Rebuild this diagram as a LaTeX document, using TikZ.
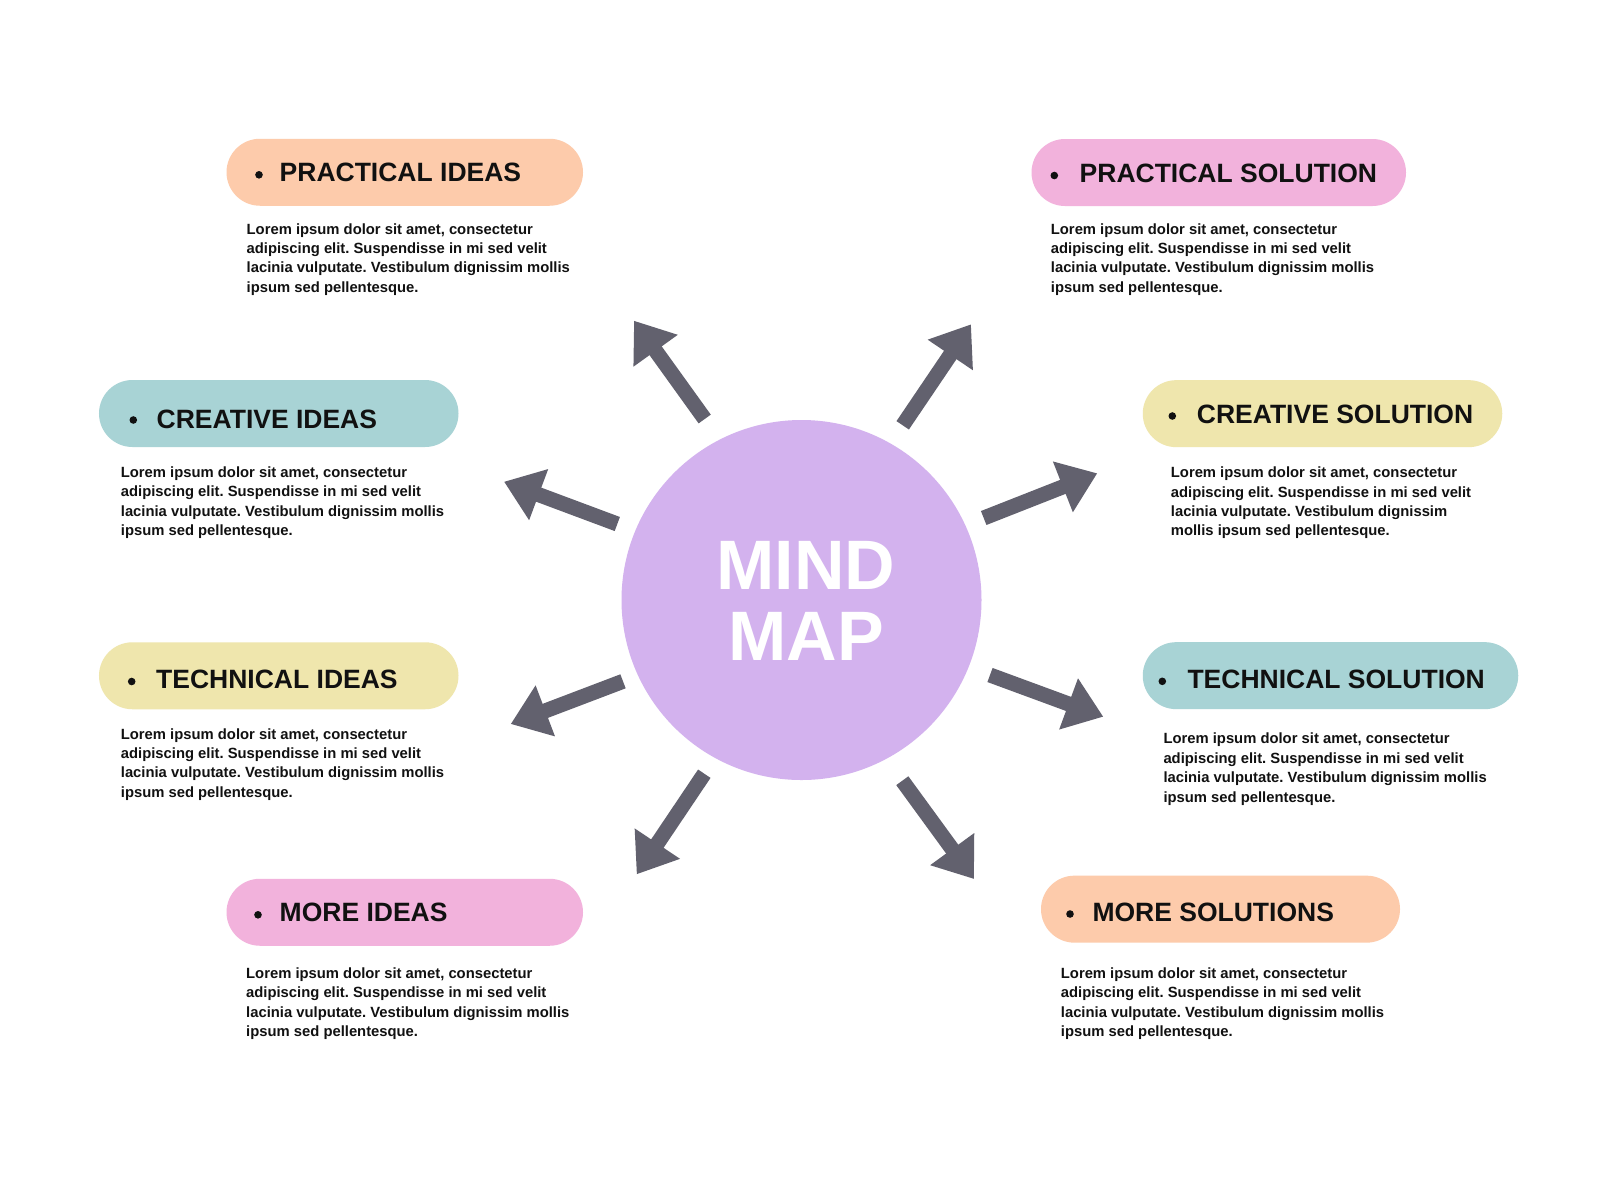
\documentclass[tikz,border=0pt]{standalone}
\usepackage{fontspec}
\setmainfont{Liberation Sans}
\usetikzlibrary{arrows.meta}
\definecolor{peach}{HTML}{FDCBAB}
\definecolor{teal}{HTML}{A8D3D5}
\definecolor{sand}{HTML}{EFE6AD}
\definecolor{pinkish}{HTML}{F2B2DC}
\definecolor{lavender}{HTML}{D3B2EE}
\definecolor{arrowgrey}{HTML}{62616E}
\definecolor{ink}{HTML}{111111}
\frenchspacing
\begin{document}
\begin{tikzpicture}[x=1bp,y=-1bp,
  pill/.style={rectangle, rounded corners=33.5bp, minimum height=67bp, inner sep=0, draw=none},
  headtxt/.style={anchor=base west, inner sep=0, font=\fontsize{26.5bp}{30bp}\selectfont\bfseries, text=ink},
  bodytxt/.style={anchor=base west, inner sep=0, align=left, font=\fontsize{14.8bp}{19.4bp}\selectfont\bfseries, text=ink},
  dot/.style={circle, fill=ink, inner sep=0, minimum size=7.6bp},
  arr/.style={draw=arrowgrey, line width=15bp, -{Triangle[width=52bp,length=37bp]}},
  hubtxt/.style={anchor=base, inner sep=0, font=\fontsize{70bp}{71bp}\selectfont\bfseries, text=white}]
\useasboundingbox (0,0) rectangle (1600,1200);
\fill[white] (0,0) rectangle (1600,1200);

% central hub
\node[circle, fill=lavender, minimum size=360bp, inner sep=0] (hub) at (801.5,600) {};
\node[hubtxt] (mind) at (806,589) {MIND};
\node[hubtxt] (map) at (806,660) {MAP};

% pills
\node[pill, fill=peach,   minimum width=356.5bp] (p1) at (404.75,172.25) {};
\node[pill, fill=teal,    minimum width=359.5bp] (p2) at (278.75,413.5) {};
\node[pill, fill=sand,    minimum width=359.5bp] (p3) at (278.75,675.75) {};
\node[pill, fill=pinkish, minimum width=356.5bp] (p4) at (404.75,912.25) {};
\node[pill, fill=pinkish, minimum width=374.5bp] (p5) at (1218.75,172.5) {};
\node[pill, fill=sand,    minimum width=359.5bp] (p6) at (1322.5,413.65) {};
\node[pill, fill=teal,    minimum width=375.5bp] (p7) at (1330.5,675.65) {};
\node[pill, fill=peach,   minimum width=359bp]   (p8) at (1220.5,909.15) {};

% bullets
\node[dot] (b1) at (259,174.8) {};
\node[dot] (b2) at (133.3,420) {};
\node[dot] (b3) at (131.7,681.5) {};
\node[dot] (b4) at (258,914.8) {};
\node[dot] (b5) at (1054.3,175.5) {};
\node[dot] (b6) at (1172.3,416) {};
\node[dot] (b7) at (1162.3,681.3) {};
\node[dot] (b8) at (1070,914) {};

% headings
\node[headtxt] (h1) at (279.5,181.8) {PRACTICAL IDEAS};
\node[headtxt] (h2) at (156.5,428) {CREATIVE IDEAS};
\node[headtxt] (h3) at (156,688.5) {TECHNICAL IDEAS};
\node[headtxt] (h4) at (279.5,921.8) {MORE IDEAS};
\node[headtxt] (h5) at (1079.5,182.5) {PRACTICAL SOLUTION};
\node[headtxt] (h6) at (1196.7,423.3) {CREATIVE SOLUTION};
\node[headtxt] (h7) at (1187.3,688.3) {TECHNICAL SOLUTION};
\node[headtxt] (h8) at (1092.3,921) {MORE SOLUTIONS};

% body texts (anchor = baseline of the last line)
\node[bodytxt] (t1) at (246.5,292.2) {Lorem ipsum dolor sit amet, consectetur\\adipiscing elit. Suspendisse in mi sed velit\\lacinia vulputate. Vestibulum dignissim mollis\\ipsum sed pellentesque.};
\node[bodytxt] (t2) at (120.7,535.5) {Lorem ipsum dolor sit amet, consectetur\\adipiscing elit. Suspendisse in mi sed velit\\lacinia vulputate. Vestibulum dignissim mollis\\ipsum sed pellentesque.};
\node[bodytxt] (t3) at (120.7,797.2) {Lorem ipsum dolor sit amet, consectetur\\adipiscing elit. Suspendisse in mi sed velit\\lacinia vulputate. Vestibulum dignissim mollis\\ipsum sed pellentesque.};
\node[bodytxt] (t4) at (246,1036.5) {Lorem ipsum dolor sit amet, consectetur\\adipiscing elit. Suspendisse in mi sed velit\\lacinia vulputate. Vestibulum dignissim mollis\\ipsum sed pellentesque.};
\node[bodytxt] (t5) at (1050.7,292.2) {Lorem ipsum dolor sit amet, consectetur\\adipiscing elit. Suspendisse in mi sed velit\\lacinia vulputate. Vestibulum dignissim mollis\\ipsum sed pellentesque.};
\node[bodytxt] (t6) at (1170.7,535.8) {Lorem ipsum dolor sit amet, consectetur\\adipiscing elit. Suspendisse in mi sed velit\\lacinia vulputate. Vestibulum dignissim\\mollis ipsum sed pellentesque.};
\node[bodytxt] (t7) at (1163.3,802) {Lorem ipsum dolor sit amet, consectetur\\adipiscing elit. Suspendisse in mi sed velit\\lacinia vulputate. Vestibulum dignissim mollis\\ipsum sed pellentesque.};
\node[bodytxt] (t8) at (1060.7,1036.5) {Lorem ipsum dolor sit amet, consectetur\\adipiscing elit. Suspendisse in mi sed velit\\lacinia vulputate. Vestibulum dignissim mollis\\ipsum sed pellentesque.};

% arrows
\coordinate (a1s) at (704.7,419);   \coordinate (a1e) at (634,320.7);
\coordinate (a2s) at (902.7,425.3); \coordinate (a2e) at (971,324.3);
\coordinate (a3s) at (617.3,524);   \coordinate (a3e) at (504,481.7);
\coordinate (a4s) at (983.7,518);   \coordinate (a4e) at (1097.3,473.3);
\coordinate (a5s) at (623,681.3);   \coordinate (a5e) at (510.7,724);
\coordinate (a6s) at (990,675);     \coordinate (a6e) at (1103.3,716.7);
\coordinate (a7s) at (704.3,773.7); \coordinate (a7e) at (636.7,874.3);
\coordinate (a8s) at (902.3,780.7); \coordinate (a8e) at (974,879);
\foreach \i in {1,...,8} {\draw[arr] (a\i s) -- (a\i e);}
\end{tikzpicture}
\end{document}
